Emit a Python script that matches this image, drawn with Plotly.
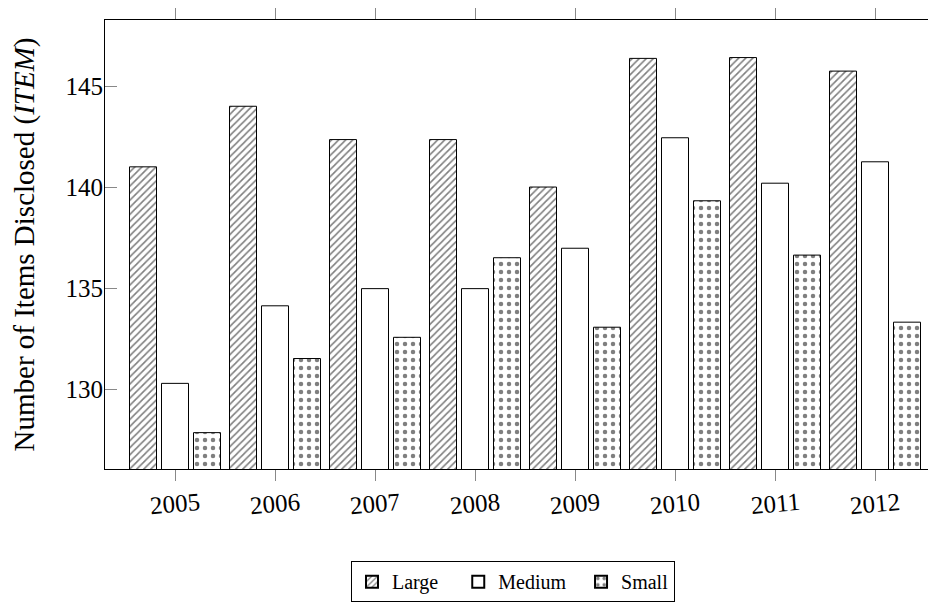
import plotly.graph_objects as go

years = ["2005", "2006", "2007", "2008", "2009", "2010", "2011", "2012"]
large = [141.0, 144.0, 142.35, 142.35, 140.0, 146.37, 146.41, 145.74]
medium = [130.28, 134.12, 134.97, 134.97, 136.97, 142.44, 140.19, 141.25]
small = [127.84, 131.51, 132.56, 136.50, 133.06, 139.32, 136.63, 133.31]
series_names = ["Large", "Medium", "Small"]

FONT = "Liberation Serif"

fig = go.Figure()
fig.add_trace(go.Bar(
    x=years, y=large, name=series_names[0] + "\u00a0\u00a0\u00a0",
    marker=dict(color="white", line=dict(color="black", width=1),
                pattern=dict(shape="/", fgcolor="black", bgcolor="white", size=5, solidity=0.32)),
))
fig.add_trace(go.Bar(
    x=years, y=medium, name=series_names[1] + "\u00a0\u00a0",
    marker=dict(color="white", line=dict(color="black", width=1)),
))
fig.add_trace(go.Bar(
    x=years, y=small, name=series_names[2],
    marker=dict(color="white", line=dict(color="black", width=1),
                pattern=dict(shape=".", fgcolor="black", bgcolor="white", size=8, solidity=0.25)),
))

# rotated year labels centred under each category (category index positions)
for i, yr in enumerate(years):
    fig.add_annotation(x=i, xref="x", y=-0.0775, yref="paper", text=yr,
                       showarrow=False, textangle=-5, xanchor="center", yanchor="middle",
                       font=dict(family=FONT, size=25, color="black"))

fig.update_layout(
    width=928, height=597,
    margin=dict(l=97, r=0, t=3, b=136),
    paper_bgcolor="white", plot_bgcolor="white",
    barmode="group", bargap=0.04, bargroupgap=0.156,
    font=dict(family=FONT, size=20, color="black"),
    showlegend=True,
    legend=dict(orientation="h", x=0.296, xanchor="left", y=-0.2052, yanchor="top",
                bordercolor="black", borderwidth=1, bgcolor="white",
                font=dict(family=FONT, size=20, color="black"), itemsizing="constant",
                traceorder="normal", itemwidth=30, tracegroupgap=0),
)
fig.update_xaxes(
    type="category", range=[-0.7, 7.61],
    showline=True, linecolor="black", linewidth=1, mirror="ticks",
    ticks="outside", ticklen=11, tickcolor="#888888", tickwidth=1,
    showticklabels=False,
    showgrid=False, zeroline=False,
)
fig.update_yaxes(
    range=[126.04, 148.27],
    tickvals=[130, 135, 140, 145],
    showline=True, linecolor="black", linewidth=1,
    ticks="inside", ticklen=12, tickcolor="#888888", tickwidth=1,
    tickfont=dict(family=FONT, size=25),
    ticklabelstandoff=-4,
    showgrid=False, zeroline=False,
    title=dict(text="Number of Items Disclosed (<i>ITEM</i>)", font=dict(family=FONT, size=29), standoff=26),
)

fig.write_html("out.html")
